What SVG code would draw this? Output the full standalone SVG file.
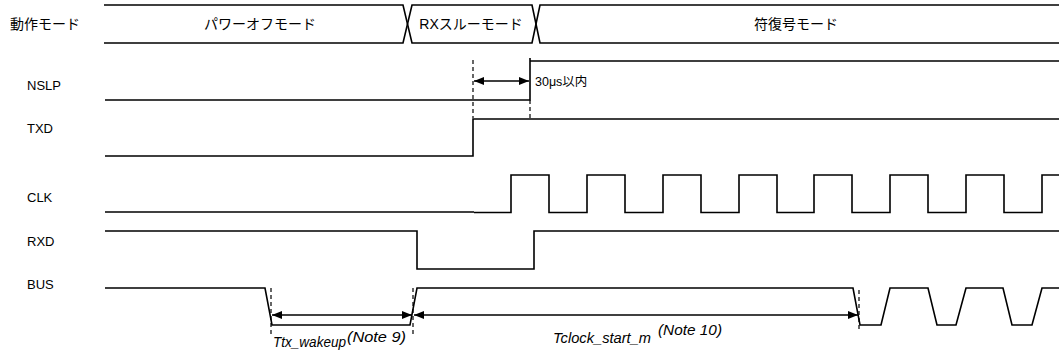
<svg xmlns="http://www.w3.org/2000/svg" width="1059" height="353" viewBox="0 0 1059 353">
<style>
.sig{fill:none;stroke:#000;stroke-width:1.6;stroke-linejoin:miter}
.dash{fill:none;stroke:#000;stroke-width:1.2;stroke-dasharray:4,3}
.dim{fill:none;stroke:#000;stroke-width:1.4}
.lbl{font-family:"Liberation Sans","Noto Sans CJK JP",sans-serif;font-size:13px;fill:#000}
.mode{font-family:"Liberation Sans","Noto Sans CJK JP",sans-serif;font-size:14px;fill:#000;text-anchor:middle}
.it{font-family:"Liberation Sans",sans-serif;font-style:italic;font-size:14px;fill:#000}
.small{font-family:"Liberation Sans","Noto Sans CJK JP",sans-serif;font-size:12.5px;fill:#000}
</style>
<defs>
<marker id="ah" viewBox="0 0 10 8" refX="10" refY="4" markerWidth="10" markerHeight="8" markerUnits="userSpaceOnUse" orient="auto-start-reverse">
<path d="M0,0 L10,4 L0,8 Z" fill="#000"/>
</marker>
</defs>
<g id="labels">
<text class="lbl" x="10" y="29" style="font-size:14px">動作モード</text>
<text class="lbl" x="27" y="90">NSLP</text>
<text class="lbl" x="27" y="133">TXD</text>
<text class="lbl" x="27" y="202">CLK</text>
<text class="lbl" x="27" y="246">RXD</text>
<text class="lbl" x="27" y="289">BUS</text>
</g>
<g id="mode-row">
<path class="sig" d="M104,5 H403 L412,43 H532 L540,5 H1059"/>
<path class="sig" d="M104,43 H403 L412,5 H532 L540,43 H1059"/>
<text class="mode" x="260" y="29">パワーオフモード</text>
<text class="mode" x="471" y="29">RXスルーモード</text>
<text class="mode" x="796" y="29">符復号モード</text>
</g>
<g id="nslp">
<path class="sig" d="M105,100 H530 V58 M530,61 H1059"/>
</g>
<g id="txd">
<path class="sig" d="M105,156 H473 V119 H1059"/>
</g>
<g id="clk">
<path class="sig" d="M105,212 H474"/>
<path class="sig" d="M474,212.5 H511 V175 H549 V212.5 H587 V175 H625 V212.5 H663 V175 H701 V212.5 H739 V175 H777 V212.5 H814 V175 H852 V212.5 H890 V175 H928 V212.5 H966 V175 H1004 V212.5 H1042 V175 H1059"/>
</g>
<g id="rxd">
<path class="sig" d="M105,231 H417 V269 H534 V231 H1059"/>
</g>
<g id="bus">
<path class="sig" d="M105,288 H265 L272,325 H410 L417,288 H853 L860,325 H881 L890,288 H928 L937,325 H956 L966,288 H1003 L1012,325 H1032 L1042,288 H1059"/>
</g>
<g id="connectors">
<line class="dash" x1="473" y1="60" x2="473" y2="118"/>
<line class="dash" x1="530" y1="100" x2="530" y2="121"/>
<line class="dim" x1="474" y1="81" x2="529" y2="81" marker-start="url(#ah)" marker-end="url(#ah)"/>
<line class="dash" x1="271" y1="288" x2="271" y2="334"/>
<line class="dash" x1="413" y1="288" x2="413" y2="334"/>
<line class="dash" x1="859" y1="290" x2="859" y2="330"/>
<line class="dim" x1="272" y1="315" x2="412" y2="315" marker-start="url(#ah)" marker-end="url(#ah)"/>
<line class="dim" x1="414" y1="315" x2="858" y2="315" marker-start="url(#ah)" marker-end="url(#ah)"/>
</g>
<g id="annotations">
<text class="small" x="535" y="86">30μs以内</text>
<text class="it" x="273" y="347" textLength="73" lengthAdjust="spacingAndGlyphs">Ttx_wakeup</text>
<text class="it" x="347" y="342" textLength="59" lengthAdjust="spacingAndGlyphs">(Note 9)</text>
<text class="it" x="553" y="343" textLength="98" lengthAdjust="spacingAndGlyphs">Tclock_start_m</text>
<text class="it" x="658" y="335" textLength="64" lengthAdjust="spacingAndGlyphs">(Note 10)</text>
</g>
</svg>
